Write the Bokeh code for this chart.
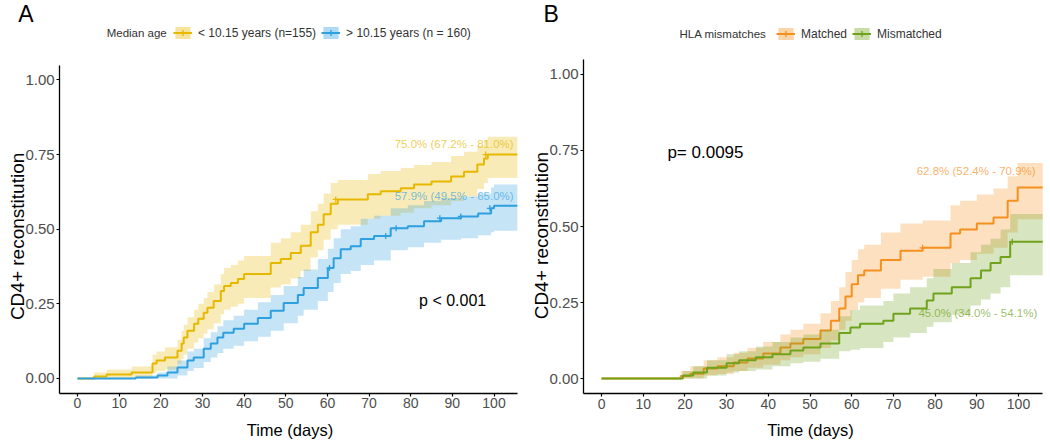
from math import pi
from bokeh.plotting import figure
from bokeh.models import (Label, Legend, LegendItem, Range1d, FixedTicker,
                          NumeralTickFormatter, ColumnDataSource)
from bokeh.layouts import row
from bokeh.embed import file_html
from bokeh.resources import INLINE

FONT = "Liberation Sans"

# ---------------- Panel A : median age ----------------
young_t = [0, 4, 7, 13, 18, 19, 21, 24, 25, 25.5, 26.4, 28, 29, 30.3, 31.2, 32.7, 34.4, 35.2,
           36.8, 38.5, 40, 46.4, 48.8, 51.2, 53.6, 56, 57.7, 59.1, 60.8, 62.5, 69.7, 72.8, 77.6,
           80.8, 85, 89.7, 92.8, 96, 97.6, 98.5, 105.6]
young_v = [0, .007, .013, .02, .05, .06, .07, .093, .117, .137, .16, .183, .2, .22, .237, .26,
           .293, .31, .32, .333, .35, .387, .4, .42, .445, .49, .515, .55, .585, .6, .617, .627,
           .637, .65, .66, .677, .693, .717, .737, .75, .75]
young_lo = [0, 0, 0, 0, .02, .025, .03, .05, .065, .08, .1, .12, .135, .15, .165, .185, .215,
            .23, .24, .25, .27, .305, .315, .335, .36, .405, .43, .465, .5, .515, .535, .545,
            .555, .57, .58, .595, .61, .635, .655, .672, .672]
young_hi = [0, .02, .03, .04, .08, .09, .105, .13, .16, .18, .205, .23, .25, .27, .29, .315,
            .35, .37, .38, .395, .41, .455, .47, .49, .515, .56, .585, .62, .655, .665, .685,
            .695, .705, .715, .725, .745, .76, .78, .8, .81, .81]
young_cens_t = [62, 98]
young_cens_v = [.6, .75]

old_t = [0, 14, 19.2, 21.6, 24, 26.4, 27.9, 30.3, 32, 33.6, 35, 37.5, 40, 43.3, 46.4, 49.5,
         52.9, 54.3, 57.7, 60.1, 61.5, 63.2, 65.6, 68, 71.2, 75.2, 79.3, 83.2, 87.3, 92.1,
         96.2, 99.3, 100, 105.6]
old_v = [0, .003, .01, .02, .037, .06, .07, .1, .117, .137, .153, .167, .183, .203, .227,
         .253, .28, .303, .337, .37, .403, .433, .443, .467, .477, .503, .51, .527, .537,
         .543, .553, .57, .579, .579]
old_lo = [0, 0, 0, 0, .01, .025, .035, .055, .07, .085, .1, .11, .125, .14, .16, .185, .21,
          .23, .26, .29, .32, .35, .36, .38, .395, .43, .44, .455, .465, .47, .48, .49, .495,
          .495]
old_hi = [0, .01, .02, .04, .06, .09, .1, .135, .155, .175, .195, .21, .23, .255, .28, .31,
          .34, .365, .4, .435, .47, .5, .51, .535, .545, .57, .58, .595, .605, .61, .62, .64,
          .65, .65]
old_cens_t = [60.5, 74, 76.5, 87, 92, 99]
old_cens_v = [.37, .477, .503, .537, .543, .57]

# ---------------- Panel B : HLA mismatches ----------------
match_t = [0, 19, 21.3, 24.5, 27.8, 31.7, 35, 38.8, 42.9, 45.3, 48.4, 52.5, 55, 57, 58.5, 60,
           61.5, 63, 67, 71.7, 77, 83.7, 86, 90, 94, 97.4, 99.8, 105.8]
match_v = [0, .008, .016, .033, .04, .053, .066, .082, .102, .115, .13, .158, .19, .23, .27,
           .31, .34, .355, .39, .42, .43, .477, .49, .51, .53, .585, .628, .628]
match_lo = [0, 0, 0, .01, .015, .025, .035, .045, .06, .07, .08, .1, .125, .16, .19, .225,
            .25, .265, .295, .325, .335, .38, .39, .41, .43, .48, .524, .524]
match_hi = [0, .025, .04, .06, .07, .085, .1, .12, .145, .16, .18, .215, .255, .3, .35, .39,
            .425, .44, .48, .51, .52, .57, .585, .605, .625, .665, .709, .709]
match_cens_t = [77]
match_cens_v = [.43]

mism_t = [0, 19.5, 22, 25.3, 30, 33, 37, 41, 45.3, 48.4, 52.5, 57, 59.7, 62, 67.6, 70, 74, 78,
          79.6, 84, 88.5, 91, 93.3, 95.7, 98, 105.8]
mism_v = [0, .01, .02, .035, .05, .06, .07, .08, .092, .102, .115, .15, .168, .18, .19, .213,
          .23, .257, .28, .3, .33, .355, .38, .4, .45, .45]
mism_lo = [0, 0, 0, .01, .02, .025, .03, .04, .05, .055, .065, .09, .095, .1, .12, .135, .15,
           .17, .185, .21, .24, .26, .28, .3, .34, .34]
mism_hi = [0, .025, .04, .06, .08, .09, .105, .12, .135, .145, .16, .205, .225, .24, .255, .28,
           .3, .33, .36, .38, .415, .44, .46, .49, .541, .541]
mism_cens_t = [98.5]
mism_cens_v = [.45]

x_ticks = [0, 10, 20, 30, 40, 50, 60, 70, 80, 90, 100]
y_ticks = [0, 0.25, 0.5, 0.75, 1.0]

YELLOW, BLUE = "#E7B800", "#2E9FDF"
ORANGE, GREEN = "#F5901E", "#6FA31B"
BAND_ALPHA = 0.28
KEY_ALPHA = 0.38


def stepify(t, *cols):
    """Expand step ('after') data so an area glyph follows the steps."""
    xs = []
    outs = [[] for _ in cols]
    for i in range(len(t)):
        if i > 0:
            xs.append(t[i])
            for o, c in zip(outs, cols):
                o.append(c[i - 1])
        xs.append(t[i])
        for o, c in zip(outs, cols):
            o.append(c[i])
    return xs, outs


def base_fig(xr, yr, xb):
    # the frame covers the whole figure; axes are pinned at fixed data locations
    p = figure(width=525, height=441, output_backend="svg", toolbar_location=None,
               x_range=Range1d(*xr), y_range=Range1d(*yr), min_border=0)
    p.outline_line_color = None
    p.xgrid.visible = False
    p.ygrid.visible = False
    p.background_fill_color = "white"
    p.border_fill_color = "white"
    p.xaxis.ticker = FixedTicker(ticks=x_ticks)
    p.yaxis.ticker = FixedTicker(ticks=y_ticks)
    p.yaxis.formatter = NumeralTickFormatter(format="0.00")
    p.xaxis.fixed_location = -0.05
    p.yaxis.fixed_location = xb[0]
    p.xaxis.bounds = xb
    p.yaxis.bounds = (-0.05, 1.05)
    for ax in (p.xaxis[0], p.yaxis[0]):
        ax.axis_line_color = "black"
        ax.axis_line_width = 1.3
        ax.major_tick_line_color = "black"
        ax.major_tick_line_width = 1.2
        ax.major_tick_out = 3
        ax.major_tick_in = 0
        ax.minor_tick_line_color = None
        ax.major_label_text_font = FONT
        ax.major_label_text_color = "#4D4D4D"
        ax.major_label_standoff = 2
    p.xaxis.major_label_text_font_size = "14px"
    p.yaxis.major_label_text_font_size = "15px"
    return p


def add_group(p, t, v, lo, hi, ct, cv, color):
    xs, (los, his) = stepify(t, lo, hi)
    p.varea(x=xs, y1=los, y2=his, fill_color=color, fill_alpha=BAND_ALPHA)
    # first (zero-height) interval of the band as a quad: gives the filled legend key
    key = p.quad(left=t[:1], right=t[1:2], bottom=lo[:1], top=hi[:1],
                 fill_color=color, fill_alpha=KEY_ALPHA, line_color=None)
    src = ColumnDataSource(dict(t=t, v=v))
    line = p.step(x="t", y="v", mode="after", source=src, line_color=color, line_width=2)
    cens = p.scatter(x=ct, y=cv, marker="cross", size=6, line_color=color, line_width=1.3)
    return [key, line, cens]


def text(p, x, y, s, size, color="black", align="left", angle=0, alpha=1.0):
    p.add_layout(Label(x=x, y=y, text=s, text_font=FONT, text_font_size=size,
                       text_color=color, text_align=align, text_baseline="middle",
                       angle=angle, text_alpha=alpha))


def add_legend(p, items, loc):
    lg = Legend(items=items, location=loc, orientation="horizontal",
                border_line_color=None, background_fill_alpha=0, padding=0, margin=0,
                spacing=5, glyph_width=19, glyph_height=15, label_standoff=6,
                label_height=14, label_text_font=FONT, label_text_font_size="12px",
                label_text_color="#333333")
    p.add_layout(lg)


# ---- Panel A ----
pa = base_fig((-18.49, 107.56), (-0.2111, 1.2663), (-4.3, 105.6))
ra1 = add_group(pa, young_t, young_v, young_lo, young_hi, young_cens_t, young_cens_v, YELLOW)
ra2 = add_group(pa, old_t, old_v, old_lo, old_hi, old_cens_t, old_cens_v, BLUE)
add_legend(pa, [LegendItem(label="< 10.15 years (n=155)", renderers=ra1),
                LegendItem(label="> 10.15 years (n = 160)", renderers=ra2)], (173, 401))
text(pa, 7.0, 1.159, "Median age", "11.5px", "#333333")
text(pa, -14.2, 1.222, "A", "23px")
text(pa, -14.4, 0.476, "CD4+ reconstitution", "19px", align="center", angle=pi / 2)
text(pa, 51, -0.171, "Time (days)", "16.5px", align="center")
text(pa, 104.7, 0.787, "75.0% (67.2% - 81.0%)", "11.5px", YELLOW, "right", alpha=0.7)
text(pa, 104.7, 0.61, "57.9% (49.5% - 65.0%)", "11.5px", BLUE, "right", alpha=0.65)
text(pa, 82.0, 0.262, "p < 0.001", "16px")

# ---- Panel B ----
pb = base_fig((-18.23, 107.67), (-0.2072, 1.2434), (-4.3, 105.8))
rb1 = add_group(pb, match_t, match_v, match_lo, match_hi, match_cens_t, match_cens_v, ORANGE)
rb2 = add_group(pb, mism_t, mism_v, mism_lo, mism_hi, mism_cens_t, mism_cens_v, GREEN)
add_legend(pb, [LegendItem(label="Matched", renderers=rb1),
                LegendItem(label="Mismatched", renderers=rb2)], (251, 400))
text(pb, 18.7, 1.132, "HLA mismatches", "11.5px", "#333333")
text(pb, -13.9, 1.2, "B", "23px")
text(pb, -14.4, 0.47, "CD4+ reconstitution", "19px", align="center", angle=pi / 2)
text(pb, 50.1, -0.168, "Time (days)", "16.5px", align="center")
text(pb, 104.1, 0.684, "62.8% (52.4% - 70.9%)", "11.5px", ORANGE, "right", alpha=0.7)
text(pb, 104.5, 0.214, "45.0% (34.0% - 54.1%)", "11.5px", GREEN, "right", alpha=0.7)
text(pb, 15.8, 0.743, "p= 0.0095", "17px")

layout = row(pa, pb)
open("out.html", "w").write(file_html(layout, INLINE))
